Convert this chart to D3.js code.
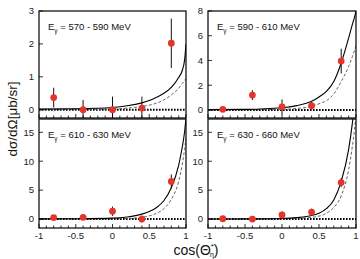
<!DOCTYPE html>
<html><head><meta charset="utf-8">
<script src="https://cdn.jsdelivr.net/npm/d3@7"></script>
<style>body{margin:0;background:#fff}svg{display:block}</style>
</head><body>
<script>
const titles = ["570 - 590 MeV","590 - 610 MeV","610 - 630 MeV","630 - 660 MeV"];
const ptX = [-0.8,-0.4,0,0.4,0.8];
const ptY = [[0.37,0.0,0.0,0.05,2.02],[0.05,1.2,0.25,0.35,3.95],[0.25,0.3,1.35,0.0,6.5],[0.05,0.0,0.7,1.2,6.3]];
const ptErr = [[0.3,0.3,0.4,0.35,0.75],[0.08,0.4,0.6,0.3,1.0],[0.2,0.3,0.8,0.6,1.2],[0.1,0.2,0.6,0.6,0.8]];
const curveX = [-1,-0.5,0,0.2,0.4,0.5,0.6,0.7,0.8,0.9,0.95,0.98,1.0];
const solidY = [
 [0.02,0.03,0.07,0.12,0.21,0.28,0.38,0.5,0.68,0.98,1.2,1.5,2.0],
 [0.03,0.05,0.18,0.35,0.7,1.05,1.5,2.3,3.8,5.8,6.9,7.5,8.0],
 [0.02,0.05,0.15,0.35,0.85,1.3,2.0,3.2,5.4,9.3,12.5,15.0,17.5],
 [0.0,0.02,0.1,0.25,0.6,1.0,1.8,3.3,6.5,12,16.5,20,24]];
const dashY = [
 [0.0,0.01,0.02,0.05,0.1,0.14,0.2,0.3,0.45,0.65,0.8,0.88,0.95],
 [0.0,0.01,0.05,0.12,0.3,0.5,0.75,1.3,2.3,3.5,4.3,4.8,5.2],
 [0.0,0.01,0.03,0.1,0.3,0.55,1.0,1.8,3.4,6.5,9.5,12,14],
 [0.0,0.01,0.03,0.1,0.3,0.5,1.0,2.0,4.0,8.5,12.5,15.5,18]];
const yDomains = [[-0.25,3],[-0.65,8],[-1.55,17.3],[-1.55,17.3]];
const yTicks = [[0,1,2,3],[0,2,4,6,8],[0,5,10,15],[0,5,10,15]];
const xTicks = [-1,-0.5,0,0.5,1];
const xTickLabels = ["-1","-0.5","0","0.5","1"];

const W=360,H=259;
const svg=d3.select("body").append("svg").attr("width",W).attr("height",H);
const panels=[{x0:39,x1:186,y0:11,y1:118},{x0:208,x1:356,y0:11,y1:118},{x0:39,x1:186,y0:119,y1:228},{x0:208,x1:356,y0:119,y1:228}];
const font="Liberation Sans, Arial, sans-serif";

panels.forEach((p,i)=>{
  const x=d3.scaleLinear().domain([-1,1]).range([p.x0,p.x1]);
  const y=d3.scaleLinear().domain(yDomains[i]).range([p.y1,p.y0]);
  const g=svg.append("g");
  const cid="clip"+i;
  svg.append("clipPath").attr("id",cid).append("rect").attr("x",p.x0).attr("y",p.y0).attr("width",p.x1-p.x0).attr("height",p.y1-p.y0);
  const cg=g.append("g").attr("clip-path",`url(#${cid})`);
  cg.append("line").attr("x1",p.x0).attr("x2",p.x1).attr("y1",y(0)).attr("y2",y(0))
    .attr("stroke","#000").attr("stroke-width",2).attr("stroke-dasharray","1.6,1.4");
  const line=d3.line().x((d,j)=>x(curveX[j])).y(d=>y(d)).curve(d3.curveMonotoneX);
  cg.append("path").attr("d",line(dashY[i])).attr("fill","none").attr("stroke","#555").attr("stroke-width",0.9).attr("stroke-dasharray","3,2");
  cg.append("path").attr("d",line(solidY[i])).attr("fill","none").attr("stroke","#000").attr("stroke-width",1.1);
  ptX.forEach((xv,j)=>{
    const yv=ptY[i][j],e=ptErr[i][j];
    cg.append("line").attr("x1",x(xv)).attr("x2",x(xv)).attr("y1",y(yv-e)).attr("y2",y(yv+e)).attr("stroke","#111").attr("stroke-width",1);
  });
  ptX.forEach((xv,j)=>{
    cg.append("circle").attr("cx",x(xv)).attr("cy",y(ptY[i][j])).attr("r",3.4).attr("fill","#e5352a");
  });
  g.append("rect").attr("x",p.x0).attr("y",p.y0).attr("width",p.x1-p.x0).attr("height",p.y1-p.y0)
    .attr("fill","none").attr("stroke","#000").attr("stroke-width",1.2);
  d3.range(-10,11).forEach(k=>{
    const v=k/10, major=(k%5===0);
    g.append("line").attr("x1",x(v)).attr("x2",x(v)).attr("y1",p.y1).attr("y2",p.y1-(major?4:2.5)).attr("stroke","#000").attr("stroke-width",0.8);
  });
  yTicks[i].forEach(v=>{
    g.append("line").attr("x1",p.x0).attr("x2",p.x0+4).attr("y1",y(v)).attr("y2",y(v)).attr("stroke","#000").attr("stroke-width",0.8);
    g.append("text").attr("x",p.x0-5).attr("y",y(v)+3.3).attr("text-anchor","end").attr("font-family",font).attr("font-size",9.5).attr("fill","#222").text(v);
  });
  if(i>=2){
    xTicks.forEach((v,k)=>{
      g.append("text").attr("x",x(v)).attr("y",p.y1+11).attr("text-anchor","middle").attr("font-family",font).attr("font-size",9.5).attr("fill","#222").text(xTickLabels[k]);
    });
  }
  const t=g.append("text").attr("x",p.x0+9).attr("y",p.y0+19).attr("font-family",font).attr("font-size",9.5).attr("fill","#111");
  t.append("tspan").text("E");
  t.append("tspan").attr("font-size",6.5).attr("dy",2.5).text("γ");
  t.append("tspan").attr("dy",-2.5).text(" = "+titles[i]);
});
svg.append("text").attr("transform","translate(17,119) rotate(-90)").attr("text-anchor","middle")
  .attr("font-family",font).attr("font-size",13.5).attr("fill","#111").text("dσ/dΩ[μb/sr]");
const xl=svg.append("text").attr("x",196).attr("y",255).attr("text-anchor","middle").attr("font-family",font).attr("font-size",14).attr("fill","#111");
xl.append("tspan").text("cos(Θ");
xl.append("tspan").attr("font-size",8).attr("dy",-6).text("*");
xl.append("tspan").attr("font-size",7).attr("dx",-4).attr("dy",8).text("η");
xl.append("tspan").attr("dy",-2).text(")");
</script>
</body></html>
